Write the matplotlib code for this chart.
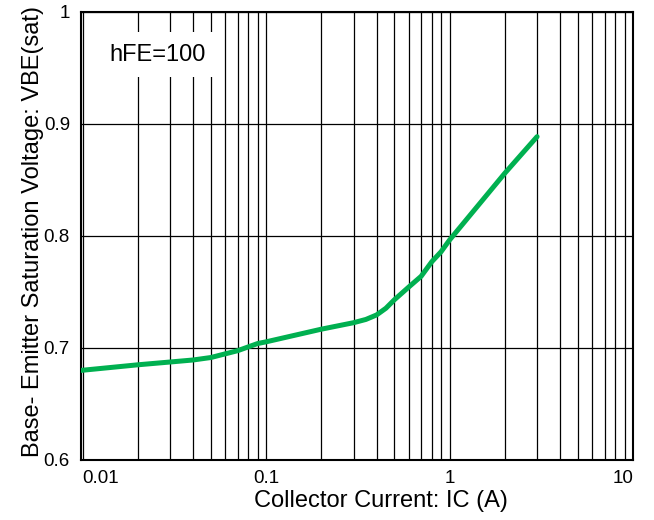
import matplotlib
matplotlib.use("Agg")
import matplotlib.pyplot as plt
from matplotlib.ticker import LogLocator, NullFormatter

plt.rcParams["font.family"] = ["Liberation Sans", "DejaVu Sans"]

# collector current (A) and VBE(sat) (V)
ic = [0.0098, 0.02, 0.03, 0.04, 0.05, 0.07, 0.09, 0.1, 0.2, 0.3, 0.35, 0.4,
      0.45, 0.5, 0.6, 0.7, 0.8, 0.9, 1.0, 2.0, 3.0]
vbe = [0.680, 0.685, 0.6875, 0.6893, 0.6915, 0.6976, 0.704, 0.7055, 0.7168, 0.7226, 0.7255, 0.7295,
       0.7355, 0.7430, 0.7545, 0.7640, 0.777, 0.786, 0.7964, 0.856, 0.8887]

x_ticks = [0.01, 0.1, 1, 10]
x_tick_labels = ["0.01", "0.1", "1", "10"]
y_ticks = [0.6, 0.7, 0.8, 0.9, 1.0]
y_tick_labels = ["0.6", "0.7", "0.8", "0.9", "1"]

fig = plt.figure(figsize=(6.54, 5.2), dpi=100)
ax = fig.add_axes([81 / 654, 1 - 460 / 520, 552 / 654, 448 / 520])

ax.set_xscale("log")
ax.set_xlim(0.0098, 10)
ax.set_ylim(0.6, 1.0)

ax.xaxis.set_minor_locator(LogLocator(base=10, subs=range(2, 10)))
ax.xaxis.set_minor_formatter(NullFormatter())
ax.set_xticks(x_ticks)
ax.set_xticklabels(x_tick_labels)
ax.set_yticks(y_ticks)
ax.set_yticklabels(y_tick_labels)

ax.grid(True, which="both", axis="x", color="black", linewidth=0.9)
ax.grid(True, which="major", axis="y", color="black", linewidth=0.9)
ax.set_axisbelow(True)

ax.tick_params(which="both", length=0, labelsize=13.5)
ax.tick_params(axis="x", pad=7)
ax.tick_params(axis="y", pad=8)
labels = ax.get_xticklabels()
labels[0].set_ha("left")
labels[-1].set_ha("right")

for s in ax.spines.values():
    s.set_linewidth(1.5)
    s.set_color("black")

ax.plot(ic, vbe, color="#00B050", linewidth=3.6, solid_joinstyle="round",
        solid_capstyle="round", zorder=3)

ax.text(0.138, 0.905, "hFE=100", transform=ax.transAxes, fontsize=17,
        ha="center", va="center",
        bbox=dict(boxstyle="square,pad=0.5", facecolor="white", edgecolor="none"),
        zorder=4)

ax.set_xlabel("Collector Current: IC (A)", fontsize=17)
ax.set_ylabel("Base- Emitter Saturation Voltage: VBE(sat)", fontsize=17)
ax.xaxis.set_label_coords(0.5435, -0.066)
ax.yaxis.set_label_coords(-0.067, 0.509)

fig.savefig("out.png", dpi=100)
